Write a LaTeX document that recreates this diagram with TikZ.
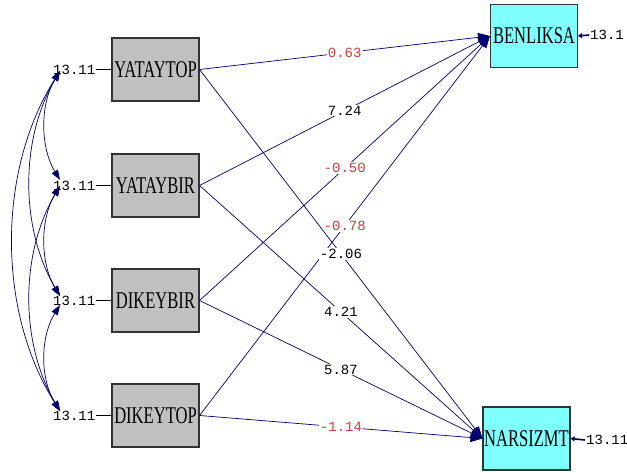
\documentclass[tikz,border=0pt]{standalone}
\usepackage{fontspec}
\usetikzlibrary{arrows.meta,positioning}
\newfontfamily\boxfont[FakeStretch=0.69]{Liberation Serif}
\newfontfamily\numfont{Liberation Mono}
\definecolor{lisnavy}{RGB}{0,0,110}
\definecolor{lisred}{RGB}{205,60,60}
\definecolor{lisgray}{RGB}{192,192,192}
\definecolor{liscyan}{RGB}{128,255,255}

\tikzset{
	obs/.style={draw=black!80, line width=1.1pt, fill=lisgray, minimum width=87pt, minimum height=63pt, inner sep=0pt, font=\boxfont\fontsize{24}{26}\selectfont},
	lat/.style={obs, fill=liscyan},
	num/.style={font=\numfont\fontsize{14}{16}\selectfont, inner sep=1pt},
	coef/.style={num, fill=white, midway},
	reg/.style={draw=lisnavy, line width=0.7pt, -{Triangle[length=12pt,width=9pt]}},
	cov/.style={draw=lisnavy, line width=0.7pt, {Triangle[length=10pt,width=7pt]}-{Triangle[length=10pt,width=7pt]}},
	err/.style={draw=lisnavy, line width=1.6pt, -{Triangle[length=4pt,width=5pt]}}
}

\begin{document}
\begin{tikzpicture}[x=1pt,y=-1pt]
		\path[use as bounding box, fill=white] (0,0) rectangle (627,473);

		\node [obs] (yt) at (155.5,69.5) {YATAYTOP};
		\node [obs] (yb) at (155.5,185.5) {YATAYBIR};
		\node [obs] (db) at (155.5,300.5) {DIKEYBIR};
		\node [obs] (dt) at (155.5,415.5) {DIKEYTOP};
		\node [lat] (ben) at (534,36) {BENLIKSA};
		\node [lat] (nar) at (526.5,438.5) {NARSIZMT};

		% error variances
		\node [num, left=15pt of yt] (e1) {13.11};
		\node [num, left=15pt of yb] (e2) {13.11};
		\node [num, left=15pt of db] (e3) {13.11};
		\node [num, left=15pt of dt] (e4) {13.11};
		\node [num, anchor=west] (eb) at (589,35) {13.1};
		\node [num, anchor=west] (en) at (585,440) {13.11};

		\draw [line width=0.8pt]
			(e1) -- (yt)
			(e2) -- (yb)
			(e3) -- (db)
			(e4) -- (dt)
		;
		\draw [err] (eb.west) -- (ben.east);
		\draw [err] (en.west) -- (nar.east);

		% paths
		\draw [reg] (yt.east) -- node [coef, text=lisred] (k1) {0.63} (ben.west);
		\draw [reg] (yb.east) -- node [coef] (k2) {7.24} (ben.west);
		\draw [reg] (db.east) -- node [coef, text=lisred] (k3) {-0.50} (ben.west);
		\draw [reg] (dt.east) -- node [coef, text=lisred] (k4) {-0.78} (ben.west);
		\draw [reg] (yt.east) -- node [coef] (k5) {-2.06} (nar.west);
		\draw [reg] (yb.east) -- node [coef] (k6) {4.21} (nar.west);
		\draw [reg] (db.east) -- node [coef] (k7) {5.87} (nar.west);
		\draw [reg] (dt.east) -- node [coef, text=lisred] (k8) {-1.14} (nar.west);

		% covariances
		\coordinate (t1) at (60,71);
		\coordinate (a2) at (60,180);
		\coordinate (b2) at (60,186);
		\coordinate (a3) at (60,296);
		\coordinate (b3) at (60,305);
		\coordinate (a4) at (60,411);

		\draw [cov] (t1) .. controls +(-20,33) and +(-20,-33) .. (a2);
		\draw [cov] (b2) .. controls +(-20,33) and +(-20,-33) .. (a3);
		\draw [cov] (b3) .. controls +(-20,32) and +(-20,-32) .. (a4);
		\draw [cov] (t1) .. controls +(-40,68) and +(-40,-68) .. (a3);
		\draw [cov] (b2) .. controls +(-40,68) and +(-40,-68) .. (a4);
		\draw [cov] (t1) .. controls +(-63,100) and +(-63,-100) .. (a4);
	\end{tikzpicture}
\end{document}
